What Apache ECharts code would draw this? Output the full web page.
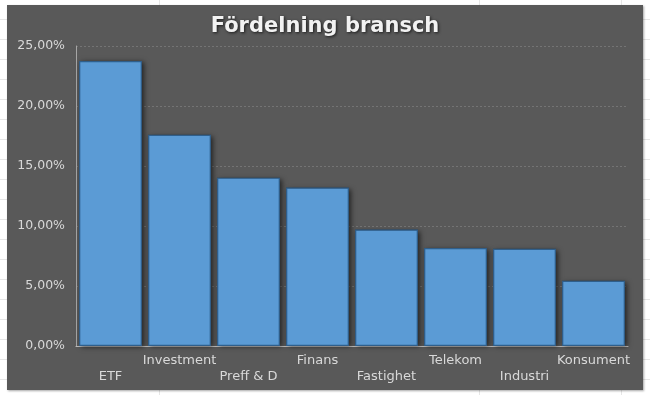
<!DOCTYPE html>
<html>
<head>
<meta charset="utf-8">
<script src="https://cdn.jsdelivr.net/npm/echarts@6/dist/echarts.min.js"></script>
<style>
  html, body { margin: 0; padding: 0; }
  body {
    width: 650px; height: 395px; position: relative; overflow: hidden;
    background-color: #ffffff;
    background-image:
      repeating-linear-gradient(to bottom, transparent 0px, transparent 19px, #e6e6e6 19px, #e6e6e6 20px),
      linear-gradient(to right, transparent 159px, #e6e6e6 159px, #e6e6e6 160px, transparent 160px),
      linear-gradient(to right, transparent 479px, #e6e6e6 479px, #e6e6e6 480px, transparent 480px),
      linear-gradient(to right, transparent 621px, #e6e6e6 621px, #e6e6e6 622px, transparent 622px);
  }
  #chart {
    position: absolute; left: 7px; top: 5px; width: 636px; height: 385px;
    box-shadow: 1px 1px 2px rgba(0,0,0,0.35);
  }
</style>
</head>
<body>
<div id="chart"></div>
<script>
const titleText = 'Fördelning bransch';
const categories = ['ETF', 'Investment', 'Preff & D', 'Finans', 'Fastighet', 'Telekom', 'Industri', 'Konsument'];
const shares = [23.75, 17.6, 14.03, 13.2, 9.7, 8.17, 8.1, 5.44];
const yTicks = { min: 0, max: 25, interval: 5 };

const chart = echarts.init(document.getElementById('chart'), null, { renderer: 'canvas' });
const font = 'DejaVu Sans, Verdana, sans-serif';
chart.setOption({
  backgroundColor: '#595959',
  animation: false,
  title: {
    text: titleText,
    left: 'center',
    top: 6,
    textStyle: {
      color: '#f2f2f2',
      fontSize: 21,
      fontWeight: 'bold',
      fontFamily: font,
      textShadowColor: 'rgba(0,0,0,0.7)',
      textShadowBlur: 3,
      textShadowOffsetX: 1,
      textShadowOffsetY: 1
    }
  },
  grid: { left: 69, right: 15, top: 41, bottom: 44, containLabel: false },
  xAxis: {
    type: 'category',
    data: categories,
    axisLine: { show: true, lineStyle: { color: '#bfbfbf', width: 1 } },
    axisTick: { show: false },
    axisLabel: {
      color: '#d9d9d9',
      fontSize: 13,
      fontFamily: font,
      margin: 7,
      lineHeight: 16,
      interval: 0,
      formatter: function (v, i) { return i % 2 === 0 ? '\n' + v : v; }
    }
  },
  yAxis: {
    type: 'value',
    min: yTicks.min,
    max: yTicks.max,
    interval: yTicks.interval,
    axisLine: { show: true, lineStyle: { color: '#a6a6a6', width: 1 } },
    axisTick: { show: false },
    axisLabel: {
      color: '#d9d9d9',
      fontSize: 12.5,
      fontFamily: font,
      margin: 11,
      formatter: function (v) { return v.toFixed(2).replace('.', ',') + '%'; }
    },
    splitLine: { show: true, lineStyle: { color: '#747474', type: [2, 2], width: 1 } }
  },
  series: [{
    type: 'bar',
    data: shares,
    barCategoryGap: '9%',
    silent: true,
    itemStyle: {
      color: '#3a3a3a',
      shadowColor: 'rgba(0,0,0,0.6)',
      shadowBlur: 5,
      shadowOffsetX: 2,
      shadowOffsetY: 1
    }
  }, {
    type: 'bar',
    data: shares,
    barGap: '-100%',
    barCategoryGap: '9%',
    itemStyle: {
      color: '#5b9bd5',
      borderColor: '#2f5f8c',
      borderWidth: 1.2
    }
  }]
});
</script>
</body>
</html>
